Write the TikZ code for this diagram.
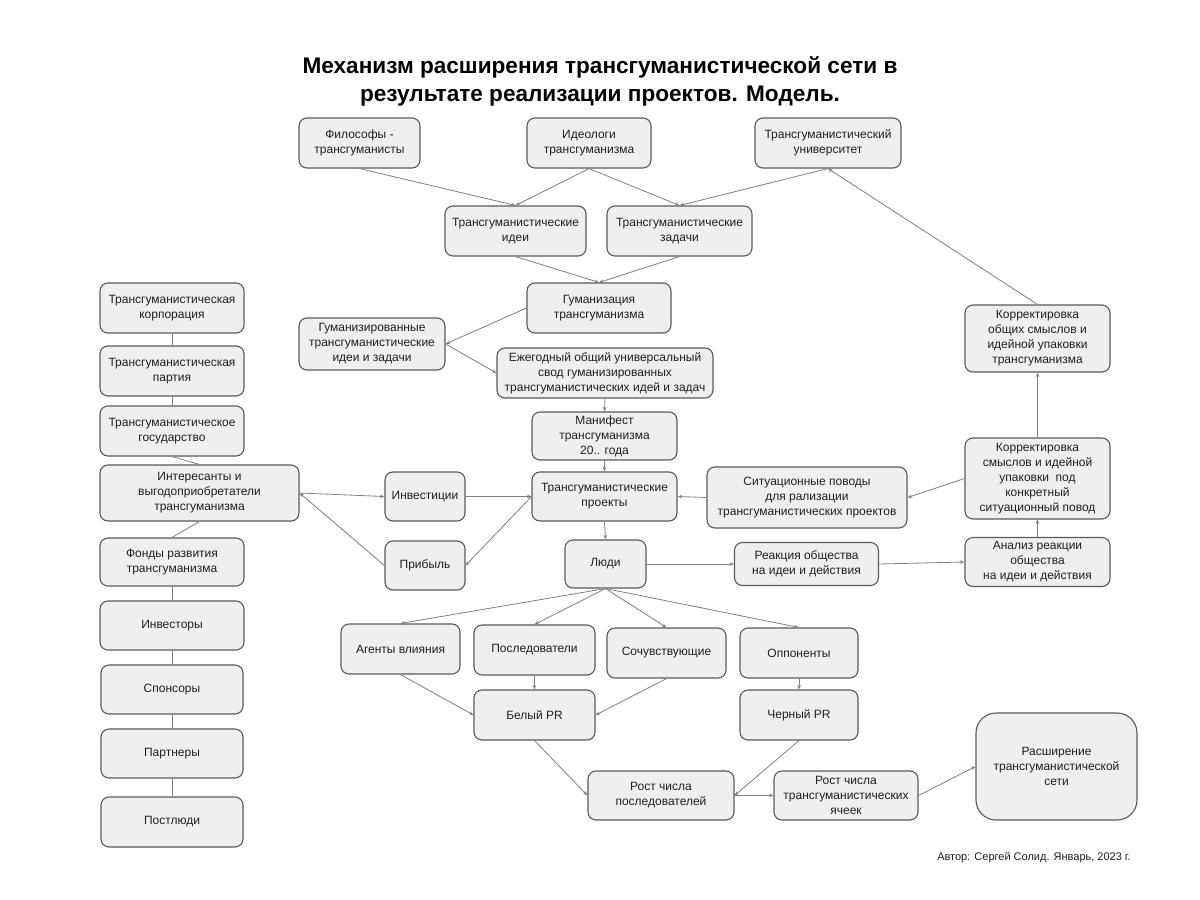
\documentclass[tikz,border=0pt]{standalone}
\usepackage{fontspec}
\setmainfont{Liberation Sans}
\usetikzlibrary{arrows.meta}
\definecolor{boxfill}{HTML}{EFEFEF}
\definecolor{boxline}{HTML}{5A5A5A}
\definecolor{conn}{HTML}{808080}
\begin{document}
\begin{tikzpicture}[x=1pt,y=-1pt,
  box/.style={draw=boxline, fill=boxfill, line width=1.1pt, rounded corners=8pt, align=center, inner sep=0pt, font=\fontsize{12}{15}\selectfont, text=black!88},
  sz/.style 2 args={minimum width=#1pt, minimum height=#2pt},
  ar/.style={draw=conn, line width=0.8pt, -{Stealth[length=4.5pt,width=3.5pt]}},
  ln/.style={draw=conn, line width=0.8pt}]
\useasboundingbox[fill=white] (0,0) rectangle (1200,900);

\node[font=\bfseries\fontsize{22.6}{28}\selectfont, align=center] (title) at (600,81) {Механизм расширения трансгуманистической сети в\\результате реализации проектов. Модель.};

% top
\node[box, sz={121}{50}] (fil) at (359.5,143) {Философы -\\трансгуманисты};
\node[box, sz={124}{50}] (ideo) at (589,143) {Идеологи\\трансгуманизма};
\node[box, sz={146}{50}] (univ) at (828,143) {Трансгуманистический\\университет};
\node[box, sz={141}{50}] (idei) at (515.5,231) {Трансгуманистические\\идеи};
\node[box, sz={145}{50}] (zad) at (679.5,231) {Трансгуманистические\\задачи};
\node[box, sz={144}{50}] (gum) at (599,308) {Гуманизация\\трансгуманизма};
\node[box, sz={146}{52}] (gumz) at (372,344) {Гуманизированные\\трансгуманистические\\идеи и задачи};
\node[box, sz={216}{50}] (ezh) at (605,373) {Ежегодный общий универсальный\\свод гуманизированных\\трансгуманистических идей и задач};
\node[box, sz={145}{48}] (man) at (604.5,436) {Манифест\\трансгуманизма\\20.. года};
\node[box, sz={145}{49}] (proj) at (604.5,496.5) {Трансгуманистические\\проекты};
\node[box, sz={81}{48}] (ludi) at (605.5,564) {Люди};
\node[box, sz={80}{49}] (inv) at (425,496.5) {Инвестиции};
\node[box, sz={80}{49}] (prib) at (425,565.5) {Прибыль};

% right
\node[box, sz={200}{61}] (sit) at (807,497.5) {Ситуационные поводы\\для рализации\\трансгуманистических проектов};
\node[box, sz={145}{67}] (korr1) at (1037.5,338.5) {Корректировка\\общих смыслов и\\идейной упаковки\\трансгуманизма};
\node[box, sz={145}{81}] (korr2) at (1037.5,478.5) {Корректировка\\смыслов и идейной\\упаковки\ \ под\\конкретный\\ситуационный повод};
\node[box, sz={145}{49}] (anal) at (1037.5,562) {Анализ реакции\\общества\\на идеи и действия};
\node[box, sz={144}{43}] (reak) at (806.5,564) {Реакция общества\\на идеи и действия};

% left column
\node[box, sz={144}{50}] (corp) at (172,308) {Трансгуманистическая\\корпорация};
\node[box, sz={144}{50}] (part) at (172,371) {Трансгуманистическая\\партия};
\node[box, sz={144}{50}] (gos) at (172,431) {Трансгуманистическое\\государство};
\node[box, sz={199}{56}] (inter) at (199.5,493) {Интересанты и\\выгодоприобретатели\\трансгуманизма};
\node[box, sz={144}{48}] (fond) at (172,562) {Фонды развития\\трансгуманизма};
\node[box, sz={144}{49}] (invs) at (172,625.5) {Инвесторы};
\node[box, sz={142}{49}] (spon) at (172,689.5) {Спонсоры};
\node[box, sz={142}{49}] (partn) at (172,753.5) {Партнеры};
\node[box, sz={142}{50}] (post) at (172,822) {Постлюди};

% bottom
\node[box, sz={119}{50}] (agent) at (400.5,649) {Агенты влияния};
\node[box, sz={121}{50}] (posl) at (534.5,650) {Последователи};
\node[box, sz={119}{50}] (soch) at (666.5,653) {Сочувствующие};
\node[box, sz={118}{50}] (opp) at (799,653) {Оппоненты};
\node[box, sz={121}{50}] (bel) at (534.5,715) {Белый PR};
\node[box, sz={118}{50}] (cher) at (799,715) {Черный PR};
\node[box, sz={146}{49}] (rost1) at (661,795.5) {Рост числа\\последователей};
\node[box, sz={144}{49}] (rost2) at (846,795.5) {Рост числа\\трансгуманистических\\ячеек};
\node[box, sz={161}{107}, rounded corners=20pt] (rash) at (1056.5,766.5) {Расширение\\трансгуманистической\\сети};

\node[font=\fontsize{11}{13}\selectfont, text=black!88] (auth) at (1034,858) {Автор: Сергей Солид. Январь, 2023 г.};

% connectors
\draw[ar] (fil.south) -- (idei.north);
\draw[ar] (ideo.south) -- (idei.north);
\draw[ar] (ideo.south) -- (zad.north);
\draw[ar] (univ.south) -- (zad.north);
\draw[ar] (korr1.north) -- (univ.south);
\draw[ar] (idei.south) -- (gum.north);
\draw[ar] (zad.south) -- (gum.north);
\draw[ar] (gum.west) -- (gumz.east);
\draw[ar] (gumz.east) -- (ezh.west);
\draw[ar] (ezh.south) -- (man.north);
\draw[ar] (man.south) -- (proj.north);
\draw[ar] (proj.south) -- (ludi.north);
\draw[ar] (inter.east) -- (inv.west);
\draw[ar] (inv.east) -- (proj.west);
\draw[ar] (proj.west) -- (prib.east);
\draw[ar] (prib.west) -- (inter.east);
\draw[ar] (sit.west) -- (proj.east);
\draw[ar] (korr2.west) -- (sit.east);
\draw[ar] (korr2.north) -- (korr1.south);
\draw[ar] (anal.north) -- (korr2.south);
\draw[ar] (ludi.east) -- (reak.west);
\draw[ar] (reak.east) -- (anal.west);
\draw[ar] (ludi.south) -- (agent.north);
\draw[ar] (ludi.south) -- (posl.north);
\draw[ar] (ludi.south) -- (soch.north);
\draw[ar] (ludi.south) -- (opp.north);
\draw[ar] (agent.south) -- (bel.west);
\draw[ar] (posl.south) -- (bel.north);
\draw[ar] (soch.south) -- (bel.east);
\draw[ar] (opp.south) -- (cher.north);
\draw[ar] (bel.south) -- (rost1.west);
\draw[ar] (cher.south) -- (rost1.east);
\draw[ar] (rost1.east) -- (rost2.west);
\draw[ar] (rost2.east) -- (rash.west);

\draw[ln] (corp.south) -- (part.north);
\draw[ln] (part.south) -- (gos.north);
\draw[ln] (gos.south) -- (inter.north);
\draw[ln] (inter.south) -- (fond.north);
\draw[ln] (fond.south) -- (invs.north);
\draw[ln] (invs.south) -- (spon.north);
\draw[ln] (spon.south) -- (partn.north);
\draw[ln] (partn.south) -- (post.north);
\end{tikzpicture}
\end{document}
